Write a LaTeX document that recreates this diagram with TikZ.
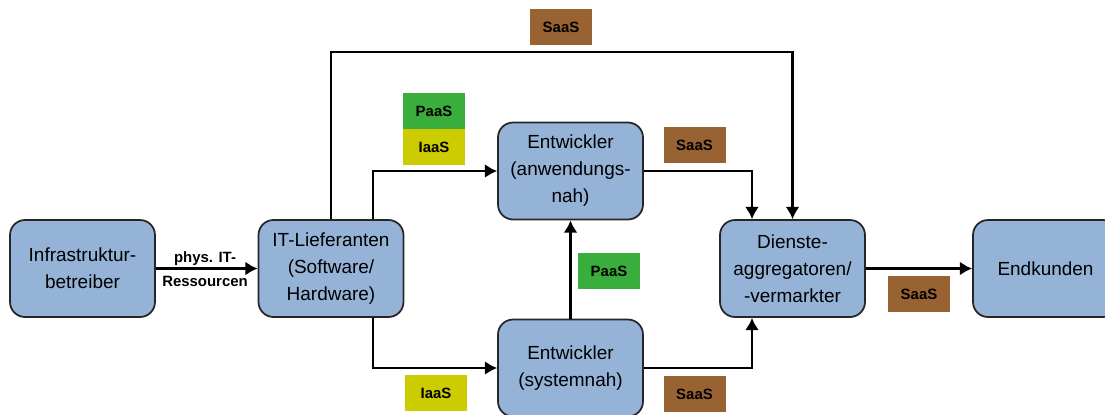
\documentclass[tikz,border=0pt]{standalone}
\usepackage{fontspec}
\setmainfont{Liberation Sans}
\usetikzlibrary{arrows.meta}
\definecolor{unitblue}{HTML}{95B3D7}
\definecolor{saasbrown}{HTML}{996232}
\definecolor{paasgreen}{HTML}{3AAE3C}
\definecolor{iaasyellow}{HTML}{CCCC00}
\tikzset{>={Latex[length=7pt,width=8pt]}}
\tikzset{
  unit/.style={draw=black!85, line width=1pt, fill=unitblue, rounded corners=0.3cm,
    minimum width=2.9cm, minimum height=1.94cm, align=center, inner sep=0pt,
    font=\fontsize{10.8}{15.4}\selectfont},
  tag/.style={minimum width=1.24cm, minimum height=0.72cm, inner sep=0pt,
    font=\fontsize{8.5}{10}\selectfont\bfseries},
  flow/.style={->, line width=1.4pt}
}

\begin{document}
\begin{tikzpicture}[x=0.02cm,y=-0.02cm]
        \useasboundingbox (0,0) rectangle (1105,414);

        \coordinate (top) at (331,52);
        \coordinate (ka) at (373,0);
        \coordinate (kd) at (752,0);

        \node[unit] (infra) at (82.5,268.5) {Infrastruktur-\\betreiber};
        \node[unit] (itl) at (331,268.5) {IT-Lieferanten\\(Software/\\Hardware)};
        \node[unit] (entA) at (570.5,171) {Entwickler\\(anwendungs-\\nah)};
        \node[unit] (entS) at (570.5,368) {Entwickler\\(systemnah)};
        \node[unit] (dienste) at (792.5,268.5) {Dienste-\\aggregatoren/\\-vermarkter};
        \node[unit] (endk) at (1045.5,268.5) {Endkunden};

        \draw[flow] (infra) -- (itl);
        \draw[flow] (itl.north -| ka) |- (entA.west);
        \draw[flow] (itl.south -| ka) |- (entS.west);
        \draw[flow] (itl.north) -- (top) -| (dienste.north);
        \draw[flow] (entS.north) -- (entA.south);
        \draw[flow] (entA.east) -| (kd |- dienste.north);
        \draw[flow] (entS.east) -| (kd |- dienste.south);
        \draw[flow] (dienste) -- (endk);

        \node[tag, align=center] (phys) at (205,269) {phys. IT-\\[3.5pt]Ressourcen};
        \node[tag, fill=saasbrown] (saasT) at (561,27) {SaaS};
        \node[tag, fill=paasgreen] (paasA) at (434,111) {PaaS};
        \node[tag, fill=iaasyellow] (iaasA) at (434,147) {IaaS};
        \node[tag, fill=saasbrown] (saasA) at (694.5,145) {SaaS};
        \node[tag, fill=paasgreen] (paasM) at (609,271) {PaaS};
        \node[tag, fill=iaasyellow] (iaasS) at (436,393) {IaaS};
        \node[tag, fill=saasbrown] (saasS) at (694.5,394) {SaaS};
        \node[tag, fill=saasbrown] (saasE) at (919,294) {SaaS};
    \end{tikzpicture}
\end{document}
